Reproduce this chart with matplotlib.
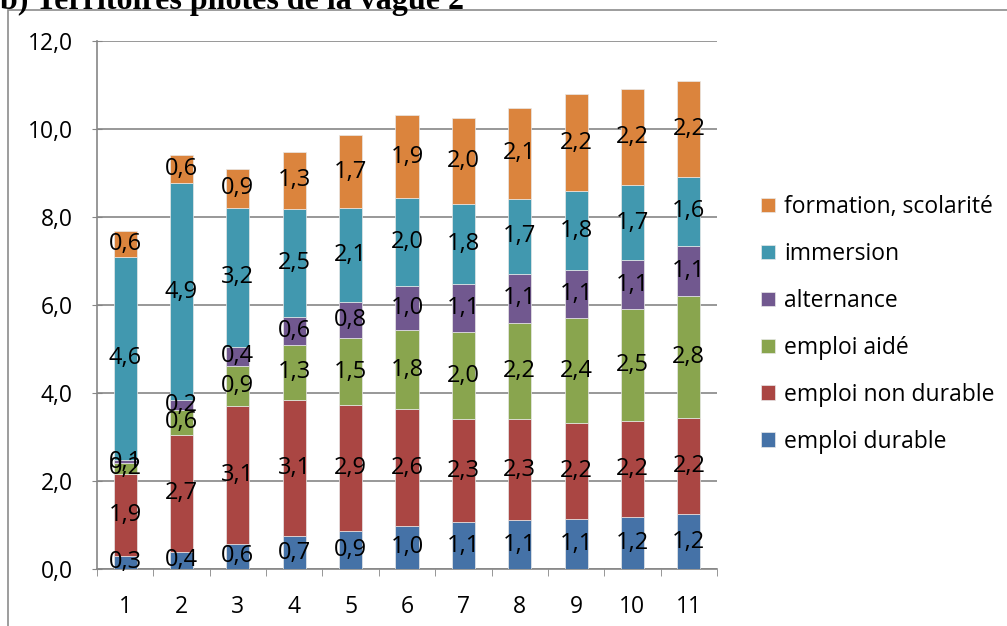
import matplotlib.pyplot as plt
from matplotlib.patches import Rectangle

# Données
categories = ['1', '2', '3', '4', '5', '6', '7', '8', '9', '10', '11']
series = ['emploi durable', 'emploi non durable', 'emploi aidé',
          'alternance', 'immersion', 'formation, scolarité']
emploi_durable = [0.30, 0.39, 0.57, 0.74, 0.87, 0.98, 1.06, 1.11, 1.14, 1.19, 1.24]
emploi_non_durable = [1.87, 2.66, 3.14, 3.10, 2.86, 2.65, 2.34, 2.30, 2.17, 2.18, 2.20]
emploi_aide = [0.23, 0.56, 0.91, 1.26, 1.51, 1.80, 1.98, 2.19, 2.39, 2.54, 2.76]
alternance = [0.08, 0.22, 0.43, 0.63, 0.83, 1.01, 1.09, 1.10, 1.10, 1.11, 1.15]
immersion = [4.62, 4.94, 3.16, 2.46, 2.13, 1.99, 1.82, 1.72, 1.78, 1.71, 1.57]
formation = [0.59, 0.63, 0.88, 1.28, 1.66, 1.89, 1.97, 2.06, 2.21, 2.18, 2.18]
valeurs = [emploi_durable, emploi_non_durable, emploi_aide, alternance, immersion, formation]
couleurs = ['#4572A7', '#AA4643', '#89A54E', '#71588F', '#4198AF', '#DB843D']
yticks = [0, 2, 4, 6, 8, 10, 12]

plt.rcParams['font.family'] = ['Open Sans', 'DejaVu Sans']

W, H = 1007, 626
fig = plt.figure(figsize=(W / 100, H / 100), dpi=100)
ax = fig.add_axes([97 / W, 1 - 569 / H, 620 / W, 528 / H])

# cadre extérieur et titre coupé
fig.patches.append(Rectangle((8 / W, -0.1), 1.2, 1 - 10 / H + 0.1, transform=fig.transFigure,
                             fill=False, edgecolor='#8c8c8c', linewidth=1.2))
fig.text(0.0, 1 - 9 / H, 'b) Territoires pilotes de la vague 2', family='Liberation Serif',
         fontweight='bold', fontsize=23, ha='left', va='baseline')

x = list(range(len(categories)))
bas = [0.0] * len(categories)
for nom, vals, c in zip(series, valeurs, couleurs):
    b = ax.bar(x, vals, width=0.41, bottom=bas, color=c, label=nom, zorder=3,
               edgecolor='#e8e8e8', linewidth=0.5)
    ax.bar_label(b, labels=[f'{v:.1f}'.replace('.', ',') for v in vals],
                 label_type='center', fontsize=17, color='black', zorder=4)
    bas = [a + v for a, v in zip(bas, vals)]

ax.set_xlim(-0.5, len(categories) - 0.5)
ax.set_ylim(0, 12)
ax.set_yticks(yticks)
ax.set_yticklabels([f'{v:.1f}'.replace('.', ',') for v in yticks], fontsize=16.5)
ax.set_xticks(x)
ax.set_xticklabels(categories, fontsize=16.5)
ax.set_xticks([i - 0.5 for i in range(len(categories) + 1)], minor=True)
ax.tick_params(axis='x', which='major', length=0, pad=19)
ax.tick_params(axis='x', which='minor', length=5, direction='out', color='#868686')
ax.tick_params(axis='y', length=7, direction='inout', color='#868686', pad=14)
ax.grid(axis='y', color='#868686', linewidth=1.2, zorder=0)
for s in ['top', 'right']:
    ax.spines[s].set_visible(False)
for s in ['left', 'bottom']:
    ax.spines[s].set_color('#868686')
    ax.spines[s].set_linewidth(1.2)

h, l = ax.get_legend_handles_labels()
fig.legend(h[::-1], l[::-1], loc='upper left', bbox_to_anchor=(752 / W, 1 - 186 / H),
           frameon=False, fontsize=16.5, handlelength=0.6, handleheight=0.6,
           handletextpad=0.4, labelspacing=1.0, borderaxespad=0)

plt.savefig('out.png', dpi=100)
